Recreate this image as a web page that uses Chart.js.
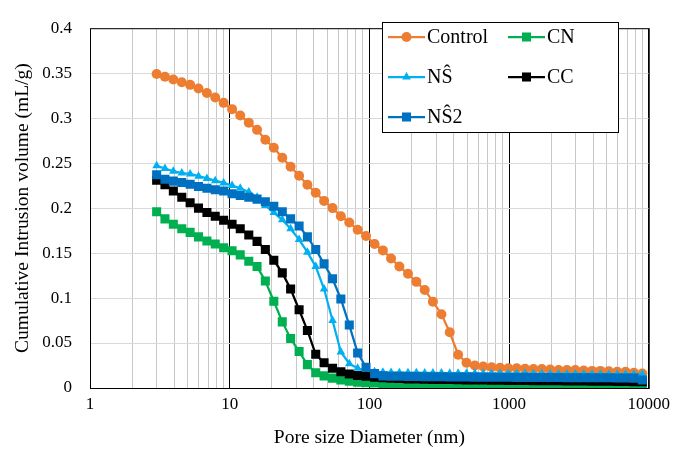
<!DOCTYPE html>
<html lang="en">
<head>
<meta charset="UTF-8">
<title>Cumulative intrusion volume</title>
<script src="https://cdn.jsdelivr.net/npm/chart.js"></script>
<style>
  html, body { margin: 0; padding: 0; background: #fff; }
  #wrap { width: 676px; height: 450px; }
</style>
</head>
<body>
<div id="wrap"><canvas id="chart" width="676" height="450"></canvas></div>
<script>
// pore size (nm), shared by every series
const poreSize = [3.00, 3.44, 3.95, 4.54, 5.21, 5.98, 6.87, 7.88, 9.05, 10.4,
  11.9, 13.7, 15.7, 18.0, 20.7, 23.8, 27.3, 31.4, 36.0, 41.3,
  47.4, 54.5, 62.5, 71.8, 82.4, 94.6, 109, 125, 143, 164,
  189, 217, 249, 285, 328, 376, 432, 496, 569, 653,
  750, 861, 988, 1134, 1302, 1495, 1716, 1970, 2262, 2596,
  2981, 3422, 3928, 4510, 5177, 5943, 6823, 7833, 8992];

// cumulative intrusion volume (mL/g)
const control = [.349, .346, .343, .340, .337, .333, .328, .323, .317, .310,
  .303, .295, .287, .276, .267, .256, .246, .236, .226, .217,
  .208, .200, .191, .184, .176, .169, .160, .153, .144, .135,
  .127, .118, .109, .096, .082, .062, .037, .028, .025, .024,
  .023, .0225, .022, .022, .0215, .021, .021, .0205, .020, .020,
  .020, .0195, .019, .019, .0185, .018, .018, .017, .016];

const cn = [.196, .188, .182, .177, .173, .168, .1635, .160, .156, .1525,
  .148, .141, .135, .119, .0965, .0735, .055, .0405, .026, .017,
  .0135, .011, .009, .0075, .0065, .006, .0055, .005, .005, .0048,
  .0047, .0046, .0045, .0045, .0044, .0044, .0043, .0043, .0042, .0042,
  .0042, .0041, .0041, .004, .004, .004, .004, .004, .004, .004,
  .004, .004, .004, .004, .004, .004, .004, .004, .004];

const ns = [.247, .244, .241, .239, .238, .2355, .233, .2305, .228, .225,
  .222, .218, .212, .203, .195, .187, .177, .165, .151, .135,
  .110, .075, .040, .027, .022, .019, .018, .0175, .0172, .017,
  .017, .017, .0168, .0167, .0166, .0165, .0165, .0164, .0163, .0162,
  .0162, .0161, .016, .016, .016, .0159, .0158, .0158, .0157, .0157,
  .0156, .0156, .0155, .0155, .0154, .0154, .0153, .0153, .0152];

const cc = [.231, .226, .219, .212, .206, .200, .195, .191, .1866, .182,
  .177, .170, .163, .154, .142, .128, .110, .087, .064, .0375,
  .028, .022, .018, .0155, .014, .013, .012, .0115, .011, .0105,
  .010, .010, .0098, .0096, .0095, .0094, .0092, .009, .009, .0088,
  .0087, .0086, .0085, .0084, .0083, .0082, .0081, .008, .008, .0079,
  .0078, .0077, .0076, .0075, .0074, .0073, .0072, .0071, .007];

const ns2 = [.237, .232, .230, .2285, .2265, .224, .222, .2205, .219, .216,
  .214, .212, .210, .207, .202, .196, .188, .180, .168, .154,
  .138, .1215, .099, .070, .039, .023, .016, .0135, .013, .013,
  .0128, .0127, .0126, .0125, .0124, .0123, .0122, .0122, .0121, .012,
  .012, .0119, .0119, .0118, .0118, .0117, .0117, .0116, .0116, .0115,
  .0115, .0114, .0114, .0113, .0113, .0112, .0112, .011, .009];

const FONT = '"Liberation Serif", "Times New Roman", serif';

function pts(vals) {
  return poreSize.map((x, i) => ({ x: x, y: vals[i] }));
}

function isPow10(v) {
  const l = Math.log10(v);
  return Math.abs(l - Math.round(l)) < 1e-9;
}

const datasets = [
  { label: 'Control', data: pts(control), borderColor: '#ED7D31', backgroundColor: '#ED7D31', pointStyle: 'circle', pointRadius: 5, order: 5 },
  { label: 'CN', data: pts(cn), borderColor: '#00B050', backgroundColor: '#00B050', pointStyle: 'rect', pointRadius: 6.4, order: 4 },
  { label: 'NŜ', data: pts(ns), borderColor: '#00B0F0', backgroundColor: '#00B0F0', pointStyle: 'triangle', pointRadius: 5, order: 3 },
  { label: 'CC', data: pts(cc), borderColor: '#000000', backgroundColor: '#000000', pointStyle: 'rect', pointRadius: 6.4, order: 2 },
  { label: 'NŜ2', data: pts(ns2), borderColor: '#0070C0', backgroundColor: '#0070C0', pointStyle: 'rect', pointRadius: 6.4, order: 1 }
];
datasets.forEach(d => { d.showLine = true; d.borderWidth = 2.25; d.pointBorderWidth = 0; });

// black frame round the plot area
const framePlugin = {
  id: 'frame',
  beforeDatasetsDraw(chart) {
    const { ctx, chartArea: a } = chart;
    ctx.save();
    ctx.strokeStyle = '#000';
    ctx.lineWidth = 1;
    ctx.strokeRect(a.left + 0.5, a.top + 0.5, a.right - a.left, a.bottom - a.top);
    ctx.restore();
  }
};

// Excel-like legend box inside the plot
const legendPlugin = {
  id: 'boxLegend',
  afterDatasetsDraw(chart) {
    const ctx = chart.ctx;
    const box = { x: 382, y: 22, w: 236, h: 110 };
    ctx.save();
    ctx.fillStyle = '#fff';
    ctx.fillRect(box.x, box.y, box.w, box.h);
    ctx.strokeStyle = '#000';
    ctx.lineWidth = 1;
    ctx.strokeRect(box.x + 0.5, box.y + 0.5, box.w, box.h);
    ctx.font = '20px ' + FONT;
    ctx.textBaseline = 'middle';
    chart.data.datasets.forEach((d, i) => {
      const x = i % 2 === 0 ? 388 : 508;
      const y = 37 + Math.floor(i / 2) * 40;
      ctx.strokeStyle = d.borderColor;
      ctx.lineWidth = 2.25;
      ctx.beginPath();
      ctx.moveTo(x, y);
      ctx.lineTo(x + 37, y);
      ctx.stroke();
      ctx.fillStyle = d.backgroundColor;
      Chart.helpers.drawPoint(ctx, { pointStyle: d.pointStyle, radius: d.pointRadius, rotation: 0, borderWidth: 0 }, x + 18.5, y);
      ctx.fillStyle = '#000';
      ctx.fillText(d.label, x + 39, y + 1);
    });
    ctx.restore();
  }
};

new Chart(document.getElementById('chart'), {
  type: 'scatter',
  data: { datasets: datasets },
  options: {
    responsive: false,
    animation: false,
    devicePixelRatio: 1,
    layout: { padding: { top: 15, right: 27, left: 0, bottom: 0 } },
    plugins: { legend: { display: false }, tooltip: { enabled: false } },
    scales: {
      x: {
        type: 'logarithmic',
        min: 1,
        max: 10000,
        afterFit: s => { s.height = 62; },
        afterBuildTicks: s => {
          s.ticks = s.ticks.filter(t => {
            const m = t.value / Math.pow(10, Math.floor(Math.log10(t.value) + 1e-9));
            return Math.abs(m - Math.round(m)) < 1e-6;
          });
        },
        border: { display: false },
        grid: {
          drawTicks: false,
          lineWidth: 1,
          color: c => (c.tick && isPow10(c.tick.value)) ? '#000' : '#c8c8c8'
        },
        ticks: {
          autoSkip: false,
          maxRotation: 0,
          padding: 6,
          color: '#000',
          font: { family: FONT, size: 17 },
          callback: v => isPow10(v) ? String(Math.round(v)) : ''
        },
        title: {
          display: true,
          text: 'Pore size Diameter (nm)',
          color: '#000',
          font: { family: FONT, size: 19.5 },
          padding: { top: 0, bottom: 0 }
        }
      },
      y: {
        min: 0,
        max: 0.4,
        afterFit: s => { s.width = 90; },
        border: { display: false },
        grid: { drawTicks: false, color: '#d9d9d9', lineWidth: 1 },
        ticks: {
          stepSize: 0.05,
          padding: 18,
          color: '#000',
          font: { family: FONT, size: 17 },
          callback: v => String(+v.toFixed(2))
        },
        title: {
          display: true,
          text: 'Cumulative Intrusion volume (mL/g)',
          color: '#000',
          font: { family: FONT, size: 19.5 },
          padding: { top: 11, bottom: 0 }
        }
      }
    }
  },
  plugins: [framePlugin, legendPlugin]
});
</script>
</body>
</html>
